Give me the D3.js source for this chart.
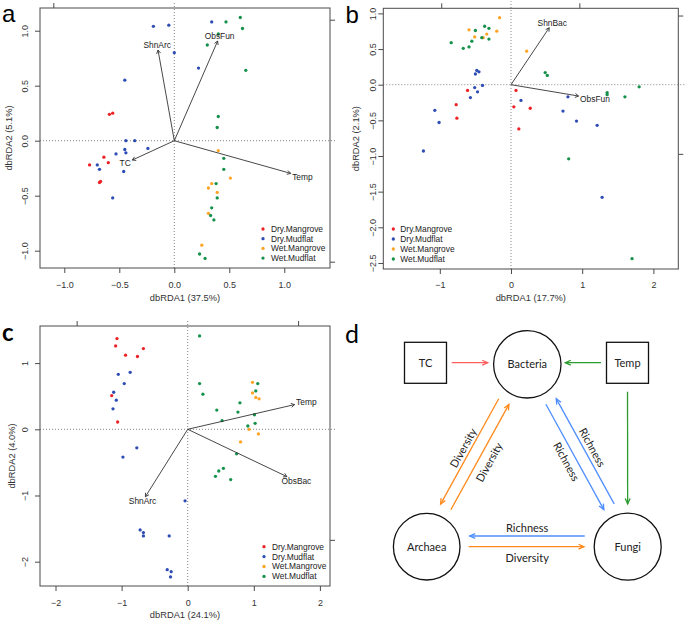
<!DOCTYPE html>
<html><head><meta charset="utf-8">
<script src="https://cdn.jsdelivr.net/npm/d3@7"></script>
<style>body{margin:0;background:#fff} svg{display:block}</style>
</head><body><svg id="fig" width="685" height="625"></svg>
<script>
// ---------------- DATA ----------------
const groups = ["Dry.Mangrove", "Dry.Mudflat", "Wet.Mangrove", "Wet.Mudflat"];

// Panel a
const aDryMangrove = [[-0.59,0.24],[-0.56,0.25],[-0.64,-0.15],[-0.77,-0.22],[-0.60,-0.20],[-0.67,-0.37],[-0.68,-0.38]];
const aDryMudflat = [[-0.19,1.04],[-0.05,1.05],[0.00,0.80],[0.34,1.08],[0.22,0.66],[-0.45,0.55],[-0.44,0.00],[-0.36,0.00],[-0.24,-0.07],[-0.45,-0.08],[-0.44,-0.11],[-0.53,-0.12],[-0.70,-0.22],[-0.68,-0.26],[-0.46,-0.28],[-0.56,-0.52]];
const aWetMangrove = [[0.40,-0.09],[0.51,-0.34],[0.34,-0.39],[0.31,-0.43],[0.39,-0.47],[0.31,-0.66],[0.25,-0.95]];
const aWetMudflat = [[0.60,1.12],[0.47,1.08],[0.62,1.02],[0.40,0.97],[0.30,0.87],[0.65,0.64],[0.40,0.22],[0.39,0.12],[0.45,-0.16],[0.45,-0.26],[0.38,-0.39],[0.39,-0.52],[0.34,-0.61],[0.33,-0.68],[0.36,-0.72],[0.23,-1.03],[0.28,-1.07]];
const aVecNames = ["ShnArc", "ObsFun", "TC", "Temp"];
const aVecX = [-0.148, 0.394, -0.382, 1.058];
const aVecY = [0.824, 0.906, -0.176, -0.297];
const aXTicks = [-1.0, -0.5, 0.0, 0.5, 1.0];
const aYTicks = [-1.0, -0.5, 0.0, 0.5, 1.0];
const aTopTicks = [-1.1];
const aRightTicks = [1.1, -1.1];
const aXTitle = "dbRDA1 (37.5%)";
const aYTitle = "dbRDA2 (5.1%)";

// Panel b
const bDryMangrove = [[-0.61,-0.08],[-0.77,-0.28],[-0.76,-0.47],[0.07,-0.08],[0.04,-0.31],[0.27,-0.33],[0.11,-0.62]];
const bDryMudflat = [[-0.48,0.20],[-0.45,0.18],[-0.50,0.15],[-0.51,-0.04],[-0.40,-0.01],[-0.47,-0.10],[-0.57,-0.18],[-1.07,-0.36],[-1.01,-0.53],[-1.23,-0.93],[0.14,-0.22],[0.80,-0.17],[0.73,-0.37],[0.92,-0.51],[1.21,-0.57],[1.28,-1.58]];
const bWetMangrove = [[-0.16,0.94],[-0.59,0.77],[-0.34,0.71],[-0.51,0.67],[-0.39,0.66],[-0.20,0.75],[0.22,0.47]];
const bWetMudflat = [[-0.37,0.82],[-0.31,0.79],[-0.50,0.76],[-0.84,0.59],[-0.55,0.61],[-0.59,0.53],[-0.67,0.51],[-0.41,0.66],[-0.31,0.64],[0.48,0.17],[0.51,0.13],[1.35,-0.11],[1.35,-0.14],[1.60,-0.17],[1.80,-0.03],[0.81,-1.04],[1.70,-2.44]];
const bVecNames = ["ShnBac", "ObsFun"];
const bVecX = [0.537, 0.949];
const bVecY = [0.799, -0.159];
const bXTicks = [-1, 0, 1, 2];
const bYTicks = [1.0, 0.5, 0.0, -0.5, -1.0, -1.5, -2.0, -2.5];
const bTopTicks = [-0.98, 0.96];
const bRightTicks = [0.97, -0.97];
const bXTitle = "dbRDA1 (17.7%)";
const bYTitle = "dbRDA2 (2.1%)";

// Panel c
const cDryMangrove = [[-1.07,1.37],[-1.09,1.26],[-0.67,1.22],[-0.94,1.12],[-0.76,1.10],[-1.15,0.51],[-1.06,0.11]];
const cDryMudflat = [[-1.05,0.83],[-0.87,0.86],[-0.96,0.69],[-1.12,0.56],[-1.08,0.44],[-1.13,0.31],[-0.77,-0.28],[-0.98,-0.42],[-0.04,-1.08],[-0.72,-1.52],[-0.67,-1.56],[-0.67,-1.61],[-0.28,-1.61],[-0.31,-2.12],[-0.25,-2.15],[-0.26,-2.23]];
const cWetMangrove = [[0.98,0.71],[0.98,0.55],[1.03,0.48],[1.08,0.46],[0.93,0.00],[1.07,-0.07],[0.80,-0.19]];
const cWetMudflat = [[0.18,1.41],[0.18,0.69],[0.23,0.53],[1.06,0.69],[1.03,0.58],[0.79,0.40],[0.44,0.29],[0.76,0.26],[1.01,0.22],[0.52,0.13],[1.02,0.09],[0.91,0.05],[0.74,-0.37],[0.54,-0.59],[0.47,-0.63],[0.42,-0.71],[0.65,-0.76]];
const cVecNames = ["Temp", "ObsBac", "ShnArc"];
const cVecX = [1.617, 1.501, -0.640];
const cVecY = [0.373, -0.715, -1.018];
const cXTicks = [-2, -1, 0, 1, 2];
const cYTicks = [1, 0, -1, -2];
const cTopTicks = [-1.68, 1.67];
const cRightTicks = [-1.67];
const cXTitle = "dbRDA1 (24.1%)";
const cYTitle = "dbRDA2 (4.0%)";

// Panel d (network)
const dNodes = ["TC", "Bacteria", "Temp", "Archaea", "Fungi"];
const dEdgeFrom = ["TC", "Temp", "Temp", "Bacteria", "Archaea", "Fungi", "Bacteria", "Fungi", "Archaea"];
const dEdgeTo = ["Bacteria", "Bacteria", "Fungi", "Archaea", "Bacteria", "Bacteria", "Fungi", "Archaea", "Fungi"];
const dEdgeType = ["TC", "Temp", "Temp", "Diversity", "Diversity", "Richness", "Richness", "Richness", "Diversity"];
const dEdgeLabel = ["", "", "", "Diversity", "Diversity", "Richness", "Richness", "Richness", "Diversity"];

// ---------------- STYLE / LAYOUT ----------------
const groupColors = ["#EC2227", "#2E4DB4", "#FFA424", "#14914A"];
const edgeColors = {TC: "#FF5E5E", Temp: "#2E9B2E", Diversity: "#FF8A1C", Richness: "#4F8EFF"};
const FONT = "'Liberation Sans', Arial, sans-serif";
const svg = d3.select("#fig");

const panels = [
  {letter: "a", letterPos: [2, 22], box: {l: 40, r: 330, t: 8, b: 268}, xDom: [-1.2209, 1.4155], yDom: [-1.1573, 1.2064],
   series: [aDryMangrove, aDryMudflat, aWetMangrove, aWetMudflat], vn: aVecNames, vx: aVecX, vy: aVecY,
   xt: aXTicks, yt: aYTicks, fx: d3.format(".1f"), fy: d3.format(".1f"), top: aTopTicks, right: aRightTicks,
   xTitle: aXTitle, yTitle: aYTitle, yLabOff: 15, yTitleOff: 31, xLabOff: 17, xTitleOff: 30,
   legend: {x: 263, y: 229, dx: 8, dy: 9.7}},
  {letter: "b", letterPos: [346, 23], box: {l: 383.3, r: 678.3, t: 8.3, b: 269}, xDom: [-1.7935, 2.3497], yDom: [-2.5848, 1.0715],
   series: [bDryMangrove, bDryMudflat, bWetMangrove, bWetMudflat], vn: bVecNames, vx: bVecX, vy: bVecY,
   xt: bXTicks, yt: bYTicks, fx: d3.format("d"), fy: d3.format(".1f"), top: bTopTicks, right: bRightTicks,
   xTitle: bXTitle, yTitle: bYTitle, yLabOff: 10.5, yTitleOff: 28, xLabOff: 16, xTitleOff: 29,
   legend: {x: 393.3, y: 229, dx: 7, dy: 10}},
  {letter: "c", letterPos: [2, 341], box: {l: 40, r: 330, t: 326, b: 586}, xDom: [-2.2345, 2.1528], yDom: [-2.3671, 1.5604],
   series: [cDryMangrove, cDryMudflat, cWetMangrove, cWetMudflat], vn: cVecNames, vx: cVecX, vy: cVecY,
   xt: cXTicks, yt: cYTicks, fx: d3.format("d"), fy: d3.format("d"), top: cTopTicks, right: cRightTicks,
   xTitle: cXTitle, yTitle: cYTitle, yLabOff: 15, yTitleOff: 28, xLabOff: 16.7, xTitleOff: 29,
   legend: {x: 264, y: 546.7, dx: 8, dy: 9.9}}
];

function measure(text, size) {
  const t = svg.append("text").attr("font-family", FONT).attr("font-size", size).text(text);
  const w = t.node().getComputedTextLength();
  t.remove();
  return w;
}

function drawRDA(P) {
  const B = P.box;
  const x = d3.scaleLinear().domain(P.xDom).range([B.l, B.r]);
  const y = d3.scaleLinear().domain(P.yDom).range([B.b, B.t]);
  const g = svg.append("g");
  const axisCol = "#4a4a4a", textCol = "#333";

  // zero lines (dotted)
  g.append("line").attr("x1", x(0)).attr("x2", x(0)).attr("y1", B.b).attr("y2", B.t - 7)
    .attr("stroke", "#777").attr("stroke-width", 0.9).attr("stroke-dasharray", "1,2");
  g.append("line").attr("x1", B.l).attr("x2", B.r + 7).attr("y1", y(0)).attr("y2", y(0))
    .attr("stroke", "#777").attr("stroke-width", 0.9).attr("stroke-dasharray", "1,2");

  // axes
  const styleAxis = sel => {
    sel.select(".domain").remove();
    sel.selectAll(".tick line").attr("stroke", axisCol).attr("stroke-width", 1);
    sel.selectAll("text").attr("fill", textCol).attr("font-family", FONT).attr("font-size", 9);
  };
  const gb = g.append("g").attr("transform", `translate(0,${B.b})`)
    .call(d3.axisBottom(x).tickValues(P.xt).tickFormat(P.fx).tickSize(5).tickSizeOuter(0));
  styleAxis(gb);
  gb.selectAll("text").attr("y", P.xLabOff).attr("dy", "0.35em");
  const gl = g.append("g").attr("transform", `translate(${B.l},0)`)
    .call(d3.axisLeft(y).tickValues(P.yt).tickFormat(P.fy).tickSize(5).tickSizeOuter(0));
  styleAxis(gl);
  gl.selectAll("text").attr("x", 0).attr("y", 0).attr("dy", "0.35em").attr("text-anchor", "middle")
    .attr("transform", `translate(${-P.yLabOff},0) rotate(-90)`);
  const gt = g.append("g").attr("transform", `translate(0,${B.t})`)
    .call(d3.axisTop(x).tickValues(P.top).tickFormat("").tickSize(5).tickSizeOuter(0));
  styleAxis(gt);
  const gr = g.append("g").attr("transform", `translate(${B.r},0)`)
    .call(d3.axisRight(y).tickValues(P.right).tickFormat("").tickSize(5).tickSizeOuter(0));
  styleAxis(gr);

  // box
  g.append("rect").attr("x", B.l).attr("y", B.t).attr("width", B.r - B.l).attr("height", B.b - B.t)
    .attr("fill", "none").attr("stroke", axisCol).attr("stroke-width", 1);

  // axis titles
  g.append("text").attr("x", (B.l + B.r) / 2).attr("y", B.b + P.xTitleOff).attr("dy", "0.35em")
    .attr("text-anchor", "middle").attr("font-family", FONT).attr("font-size", 9.3).attr("fill", textCol).text(P.xTitle);
  g.append("text").attr("transform", `translate(${B.l - P.yTitleOff},${(B.t + B.b) / 2}) rotate(-90)`)
    .attr("dy", "0.35em").attr("text-anchor", "middle").attr("font-family", FONT).attr("font-size", 9.3)
    .attr("fill", textCol).text(P.yTitle);

  // points
  P.series.forEach((s, i) => {
    g.append("g").selectAll("circle").data(s).join("circle")
      .attr("cx", d => x(d[0])).attr("cy", d => y(d[1])).attr("r", 1.65).attr("fill", groupColors[i]);
  });

  // biplot arrows
  const x0 = x(0), y0 = y(0);
  const fs = 8.4;
  P.vn.forEach((name, i) => {
    const tx = x(P.vx[i]), ty = y(P.vy[i]);
    g.append("line").attr("x1", x0).attr("y1", y0).attr("x2", tx).attr("y2", ty)
      .attr("stroke", "#333").attr("stroke-width", 0.9);
    const ang = Math.atan2(ty - y0, tx - x0), hl = 4, ha = Math.PI / 6;
    const p1 = [tx - hl * Math.cos(ang - ha), ty - hl * Math.sin(ang - ha)];
    const p2 = [tx - hl * Math.cos(ang + ha), ty - hl * Math.sin(ang + ha)];
    g.append("path").attr("d", `M${p1[0]},${p1[1]}L${tx},${ty}L${p2[0]},${p2[1]}`)
      .attr("fill", "none").attr("stroke", "#333").attr("stroke-width", 0.9);
    // label placement (vegan ordiArrowTextXY logic, in pixels, y up)
    const dx = tx - x0, dyUp = y0 - ty;
    const w = measure(name, fs), h = fs * 0.72;
    let ox = Math.sign(dx) * (w / 2 + h / 4), oy = 0.75 * h * Math.sign(dyUp);
    const b = dyUp / dx;
    const move = oy / b;
    if (isFinite(move) && Math.abs(move) <= Math.abs(ox)) ox = move; else oy = b * ox;
    g.append("text").attr("x", tx + ox).attr("y", ty - oy).attr("dy", "0.35em").attr("text-anchor", "middle")
      .attr("font-family", FONT).attr("font-size", fs).attr("fill", "#222").text(name);
  });

  // legend
  const L = P.legend;
  groups.forEach((gname, i) => {
    const yy = L.y + i * L.dy;
    g.append("circle").attr("cx", L.x).attr("cy", yy).attr("r", 1.65).attr("fill", groupColors[i]);
    g.append("text").attr("x", L.x + L.dx).attr("y", yy).attr("dy", "0.35em").attr("font-family", FONT)
      .attr("font-size", 8.4).attr("fill", "#222").text(gname);
  });
}

panels.forEach(drawRDA);

// panel letters
svg.append("text").attr("x", 2).attr("y", 22).attr("font-family", FONT).attr("font-size", 24).attr("fill", "#000").text("a");
svg.append("text").attr("x", 345.5).attr("y", 23).attr("font-family", FONT).attr("font-size", 24).attr("fill", "#000").text("b");
svg.append("text").attr("x", 2).attr("y", 341).attr("font-family", "Lato, 'Open Sans', sans-serif").attr("font-weight", 700).attr("font-size", 24).attr("fill", "#000").text("c");
svg.append("text").attr("x", 345).attr("y", 343).attr("font-family", "Lato, 'Open Sans', sans-serif").attr("font-size", 25).attr("fill", "#000").text("d");

// ---------------- PANEL d ----------------
const DFONT = "Lato, 'Open Sans', sans-serif";
const nodeLayout = {
  TC: {x: 425.5, y: 362.8, shape: "rect", w: 42, h: 41},
  Temp: {x: 627.5, y: 362.8, shape: "rect", w: 42, h: 41},
  Bacteria: {x: 527.3, y: 364.3, shape: "circle", r: 33.7},
  Archaea: {x: 426.7, y: 546.7, shape: "circle", r: 33.3},
  Fungi: {x: 627.7, y: 546.7, shape: "circle", r: 33.5}
};
// per-edge geometry: perpendicular offset, label offset, start/end clearance from node centre
const edgeGeom = [
  {off: 0, lab: 0, s: 26.2, e: 39.6, fy: 362.7},
  {off: 0, lab: 0, s: 26.5, e: 38, fy: 362.7},
  {off: 0, lab: 0, s: 29, e: 42.7},
  {off: 8.4, lab: 15.5, s: 44, e: 44},
  {off: 3.3, lab: 14, s: 44, e: 44},
  {off: 8.8, lab: 16.7, s: 44, e: 44},
  {off: 3.0, lab: 12.8, s: 44, e: 44},
  {off: 10.7, lab: 18.4, s: 43, e: 43},
  {off: 0, lab: 11, s: 42, e: 43.7}
];
const gd = svg.append("g");
dNodes.forEach(n => {
  const N = nodeLayout[n];
  if (N.shape === "rect") {
    gd.append("rect").attr("x", N.x - N.w / 2).attr("y", N.y - N.h / 2).attr("width", N.w).attr("height", N.h)
      .attr("fill", "none").attr("stroke", "#111").attr("stroke-width", 1.3);
  } else {
    gd.append("circle").attr("cx", N.x).attr("cy", N.y).attr("r", N.r)
      .attr("fill", "none").attr("stroke", "#111").attr("stroke-width", 1.3);
  }
  gd.append("text").attr("x", N.x).attr("y", N.y).attr("dy", "0.35em").attr("text-anchor", "middle")
    .attr("font-family", DFONT).attr("font-size", 11).attr("fill", "#222").text(n);
});
dEdgeFrom.forEach((f, i) => {
  const A = nodeLayout[f], Bn = nodeLayout[dEdgeTo[i]], G = edgeGeom[i];
  let ax = A.x, ay = G.fy !== undefined ? G.fy : A.y, bx = Bn.x, by = G.fy !== undefined ? G.fy : Bn.y;
  const len = Math.hypot(bx - ax, by - ay);
  const ux = (bx - ax) / len, uy = (by - ay) / len;
  const nx = -uy, ny = ux;
  const sx = ax + ux * G.s + nx * G.off, sy = ay + uy * G.s + ny * G.off;
  const ex = ax + ux * (len - G.e) + nx * G.off, ey = ay + uy * (len - G.e) + ny * G.off;
  const col = edgeColors[dEdgeType[i]];
  gd.append("line").attr("x1", sx).attr("y1", sy).attr("x2", ex).attr("y2", ey)
    .attr("stroke", col).attr("stroke-width", 1.3);
  const ang = Math.atan2(uy, ux), hl = 6, ha = 0.42;
  const p1 = [ex - hl * Math.cos(ang - ha), ey - hl * Math.sin(ang - ha)];
  const p2 = [ex - hl * Math.cos(ang + ha), ey - hl * Math.sin(ang + ha)];
  gd.append("path").attr("d", `M${p1[0]},${p1[1]}L${ex},${ey}L${p2[0]},${p2[1]}`)
    .attr("fill", "none").attr("stroke", col).attr("stroke-width", 1.3);
  if (dEdgeLabel[i]) {
    const mx = (ax + bx) / 2 + nx * G.lab, my = (ay + by) / 2 + ny * G.lab;
    let deg = ang * 180 / Math.PI;
    if (deg > 90) deg -= 180;
    if (deg < -90) deg += 180;
    gd.append("text").attr("transform", `translate(${mx},${my}) rotate(${deg})`).attr("dy", "0.35em")
      .attr("text-anchor", "middle").attr("font-family", DFONT).attr("font-size", 11).attr("fill", "#222")
      .text(dEdgeLabel[i]);
  }
});
</script>
</body></html>
